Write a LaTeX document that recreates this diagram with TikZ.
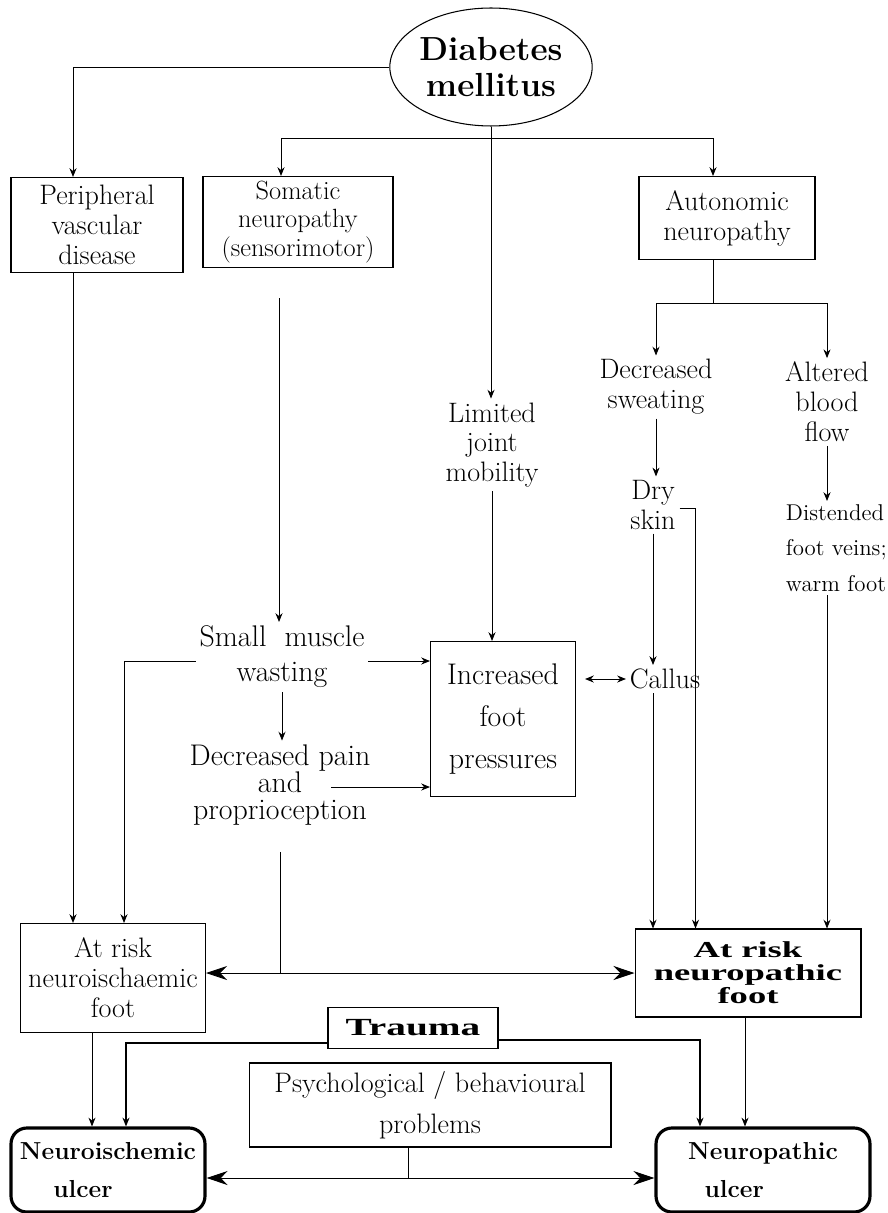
\documentclass[tikz,border=0pt]{standalone}
\usepackage{fontspec}
\newfontfamily\widefont[FakeStretch=1.6]{Liberation Serif}
\usetikzlibrary{shapes.geometric,arrows.meta,calc}
\newcommand{\fsz}[2]{\fontsize{#1}{#2}\selectfont}

\begin{document}
\begin{tikzpicture}[x=0.02cm, y=-0.02cm, >={Stealth[length=5pt,width=4pt]},
    line width=0.5pt,
    every node/.style={align=center, inner sep=2pt, font=\fsz{16}{17}},
    box/.style={draw, line width=0.6pt},
    ulcer/.style={draw, rounded corners=9pt, line width=1.8pt, minimum height=1.68cm, font=\bfseries\fsz{14}{21.5}},
    big/.style={{Stealth[length=12pt,width=8pt]}-{Stealth[length=12pt,width=8pt]}}]

    \useasboundingbox (0,0) rectangle (887,1213);

    % Nodes
    \node[draw, ellipse, line width=0.6pt, minimum width=4cm, minimum height=2.36cm, inner sep=0pt, font=\bfseries\fsz{19}{21}] (dm) at (491,67) {Diabetes\\mellitus};
    \node[box, minimum width=3.44cm, minimum height=1.9cm] (pvd) at (97,225) {Peripheral\\vascular\\disease};
    \node[box, minimum width=3.8cm, minimum height=1.82cm, font=\fsz{15}{16}] (som) at (298,222) {Somatic\\neuropathy\\(sensorimotor)};
    \node[box, minimum width=3.52cm, minimum height=1.66cm] (aut) at (727,218) {Autonomic\\neuropathy};
    \node (ljm) at (492,445) {Limited\\joint\\mobility};
    \node (dsw) at (656,387) {Decreased\\sweating};
    \node (abf) at (827,402) {Altered\\blood\\flow};
    \node (dry) at (653,505) {Dry\\skin};
    \node[anchor=north west, align=left, font=\fsz{13}{20}] (dfv) at (782,501) {Distended\\foot veins;\\warm foot};
    \node[font=\fsz{17}{20}] (smw) at (282,657) {Small\ \ muscle\\wasting};
    \node[box, minimum width=2.9cm, minimum height=3.1cm, font=\fsz{17}{24}] (ifp) at (503,719) {Increased\\foot\\pressures};
    \node (cal) at (665,679) {Callus};
    \node[font=\fsz{17}{15.5}] (dpp) at (280,785) {Decreased pain\\and\\proprioception};
    \node[box, minimum width=3.7cm, minimum height=2.18cm] (arn) at (113,978) {At risk\\neuroischaemic\\foot};
    \node[box, minimum width=4.52cm, minimum height=1.76cm, font=\widefont\bfseries\fsz{13}{13}] (arp) at (748,973) {At risk\\neuropathic\\foot};
    \node[box, minimum width=3.4cm, minimum height=0.82cm, font=\widefont\bfseries\fsz{14}{16}] (tra) at (413,1028) {Trauma};
    \node[box, minimum width=7.24cm, minimum height=1.68cm, font=\fsz{16}{23}] (psy) at (430,1105) {Psychological / behavioural\\problems};
    \node[ulcer, minimum width=3.88cm] (niu) at (108,1170) {Neuroischemic\\ulcer\hspace*{1cm}};
    \node[ulcer, minimum width=4.28cm] (npu) at (763,1170) {Neuropathic\\ulcer\hspace*{1.15cm}};

    % Arrows from diabetes
    \draw[->] (dm.west) -| ($(pvd.north)+(-24,0)$);
    \draw[->] (dm.south) -- (dm.south |- ljm.north);
    \coordinate (split) at (dm.south |- 0,138);
    \draw[->] (split) -| ($(som.north)+(-17,0)$);
    \draw[->] (split) -| ($(aut.north)+(-14,0)$);

    % Autonomic branches
    \draw ($(aut.south)+(-14,0)$) -- ++(0,43) coordinate (split2);
    \draw[->] (split2) -| (dsw.north);
    \draw[->] (split2) -| (abf.north);
    \draw[->] (dsw.south) -- (dsw.south |- dry.north);
    \draw[->] (dry.south) -- (dry.south |- cal.north);
    \draw[->] (dry.south |- cal.south) -- (dry.south |- arp.north);
    \draw[->] (dry.east |- 0,508) -- ++(16,0) coordinate (tick) -- (tick |- arp.north);
    \draw[->] (abf.south) -- (abf.south |- dfv.north);
    \draw[->] (abf.south |- dfv.south) -- (abf.south |- arp.north);

    % Somatic side
    \draw[->, shorten <=0.6cm] ($(som.south)+(-19,0)$) coordinate (s1) -- (s1 |- smw.north);
    \draw[->] (smw.south) -- (smw.south |- dpp.north);
    \draw[->] (smw.east |- 0,661) -- (ifp.west |- 0,661);
    \draw[->] (smw.west |- 0,661) -| ($(arn.north)+(11,0)$);
    \draw[->] ($(dpp)+(51,2)$) -- (ifp.west |- 0,787);
    \draw[<->, shorten <=0.18cm] (ifp.east |- cal) -- (cal.west);
    \draw[->] (ljm.south) -- (ljm.south |- ifp.north);
    \draw[->] ($(pvd.south)+(-24,0)$) coordinate (p1) -- (p1 |- arn.north);

    % Foot to ulcer
    \draw[big] (arn.east |- arp.west) -- (arp.west);
    \draw[shorten <=0.45cm] (dpp.south) -- (dpp.south |- arp.west);
    \draw[->] ($(arn.south)+(-21,0)$) coordinate (a1) -- (a1 |- niu.north);
    \draw[->, line width=0.8pt] (tra.west |- 0,1043) -| ($(niu.north)+(18,0)$);
    \draw[->, line width=0.8pt] (tra.east |- 0,1040) -| ($(npu.north)+(-63,0)$);
    \draw[->] ($(arp.south)+(-3,0)$) coordinate (a2) -- (a2 |- npu.north);
    \draw ($(psy.south)+(-22,0)$) -- ++(0,31);
    \draw[big] ($(niu.east)+(0,8)$) -- ($(npu.west)+(0,8)$);

\end{tikzpicture}
\end{document}
